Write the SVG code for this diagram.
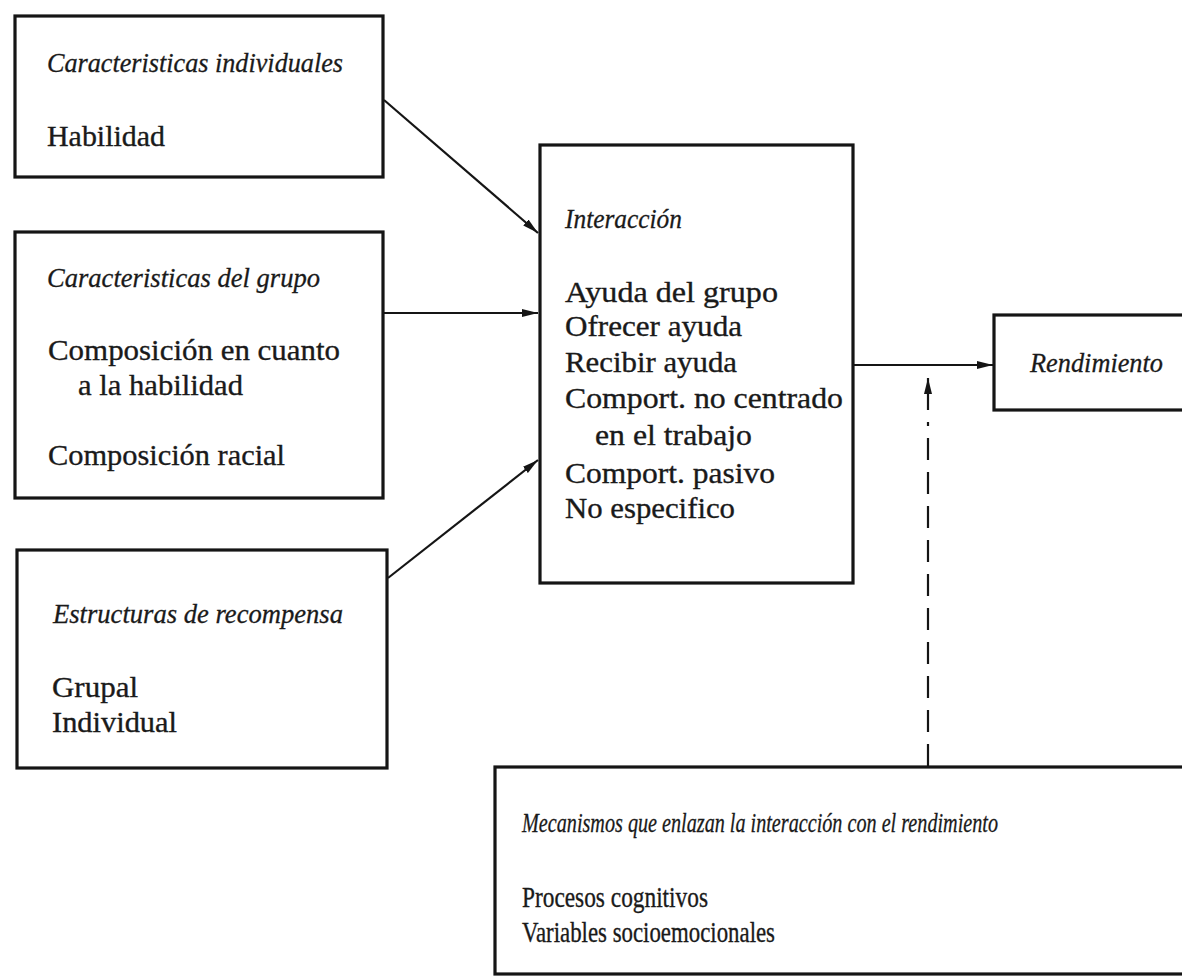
<svg xmlns="http://www.w3.org/2000/svg" width="1182" height="976" viewBox="0 0 1182 976">
<style>
.box{fill:#fff;stroke:#151515;stroke-width:3.2}
.t{font-family:"Liberation Serif",serif;font-size:30px;fill:#1a1a1a;stroke:#1a1a1a;stroke-width:0.35}
.i{font-family:"Liberation Serif",serif;font-style:italic;font-size:27px;fill:#1a1a1a;stroke:#1a1a1a;stroke-width:0.3}
.sm{font-size:29px}
.ism{font-size:27px}
.c{stroke:#151515;stroke-width:2.2;fill:none}
.d{stroke:#151515;stroke-width:2.2;fill:none;stroke-dasharray:22 12}
</style>
<defs>
<marker id="ah" viewBox="0 0 16 8" refX="16" refY="4" markerWidth="16" markerHeight="8" markerUnits="userSpaceOnUse" orient="auto">
<path d="M0,0 L16,4 L0,8 Z" fill="#151515"/>
</marker>
</defs>
<rect width="1182" height="976" fill="#fff"/>
<g id="connectors">
<line class="c" x1="384" y1="100" x2="538" y2="233" marker-end="url(#ah)"/>
<line class="c" x1="384" y1="313" x2="538" y2="313" marker-end="url(#ah)"/>
<line class="c" x1="388" y1="578" x2="538" y2="460" marker-end="url(#ah)"/>
<line class="c" x1="854" y1="365" x2="993" y2="365" marker-end="url(#ah)"/>
<line class="c" x1="928" y1="410" x2="928" y2="378" marker-end="url(#ah)"/>
<line class="d" x1="928" y1="766" x2="928" y2="422"/>
</g>
<g id="node-individuales">
<rect class="box" x="15" y="16" width="368" height="161"/>
<text class="i" x="47" y="72" textLength="296" lengthAdjust="spacingAndGlyphs">Caracteristicas individuales</text>
<text class="t" x="47" y="146" textLength="118" lengthAdjust="spacingAndGlyphs">Habilidad</text>
</g>
<g id="node-grupo">
<rect class="box" x="15" y="232" width="368" height="266"/>
<text class="i" x="47" y="287" textLength="273" lengthAdjust="spacingAndGlyphs">Caracteristicas del grupo</text>
<text class="t" x="48" y="360" textLength="292" lengthAdjust="spacingAndGlyphs">Composición en cuanto</text>
<text class="t" x="78" y="395" textLength="165" lengthAdjust="spacingAndGlyphs">a la habilidad</text>
<text class="t" x="48" y="465" textLength="237" lengthAdjust="spacingAndGlyphs">Composición racial</text>
</g>
<g id="node-recompensa">
<rect class="box" x="17" y="550" width="370" height="218"/>
<text class="i" x="53" y="623" textLength="290" lengthAdjust="spacingAndGlyphs">Estructuras de recompensa</text>
<text class="t" x="52" y="697" textLength="86" lengthAdjust="spacingAndGlyphs">Grupal</text>
<text class="t" x="52" y="732" textLength="125" lengthAdjust="spacingAndGlyphs">Individual</text>
</g>
<g id="node-interaccion">
<rect class="box" x="540" y="145" width="313" height="438"/>
<text class="i" x="565" y="228" textLength="117" lengthAdjust="spacingAndGlyphs">Interacción</text>
<text class="t" x="565" y="302" textLength="213" lengthAdjust="spacingAndGlyphs">Ayuda del grupo</text>
<text class="t" x="565" y="336" textLength="177" lengthAdjust="spacingAndGlyphs">Ofrecer ayuda</text>
<text class="t" x="565" y="372" textLength="172" lengthAdjust="spacingAndGlyphs">Recibir ayuda</text>
<text class="t" x="565" y="408" textLength="278" lengthAdjust="spacingAndGlyphs">Comport. no centrado</text>
<text class="t" x="595" y="445" textLength="157" lengthAdjust="spacingAndGlyphs">en el trabajo</text>
<text class="t" x="565" y="483" textLength="210" lengthAdjust="spacingAndGlyphs">Comport. pasivo</text>
<text class="t" x="565" y="518" textLength="170" lengthAdjust="spacingAndGlyphs">No especifico</text>
</g>
<g id="node-rendimiento">
<rect class="box" x="994" y="315" width="200" height="95"/>
<text class="i" x="1030" y="372" textLength="133" lengthAdjust="spacingAndGlyphs">Rendimiento</text>
</g>
<g id="node-mecanismos">
<rect class="box" x="495" y="767" width="700" height="207"/>
<text class="i ism" x="522" y="832" textLength="476" lengthAdjust="spacingAndGlyphs">Mecanismos que enlazan la interacción con el rendimiento</text>
<text class="t sm" x="522" y="907" textLength="186" lengthAdjust="spacingAndGlyphs">Procesos cognitivos</text>
<text class="t sm" x="522" y="942" textLength="253" lengthAdjust="spacingAndGlyphs">Variables socioemocionales</text>
</g>
</svg>
